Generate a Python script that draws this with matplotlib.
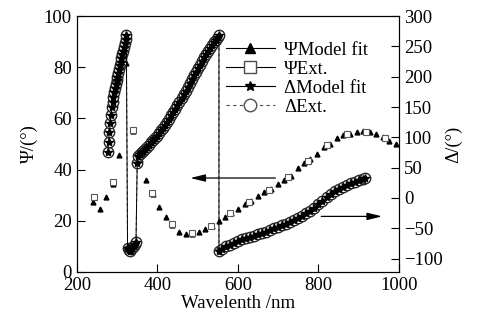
import matplotlib
matplotlib.use('Agg')
import matplotlib.pyplot as plt
from matplotlib.lines import Line2D

plt.rcParams['font.family'] = ['Liberation Serif', 'DejaVu Serif']

# Psi model fit (triangles)
psi_fit_wl = [240, 257, 273, 290, 306, 323, 339, 356, 372, 388, 405, 421, 437, 454, 470, 486,
              503, 519, 535, 552, 568, 584, 601, 617, 633, 650, 666, 682, 699, 715, 731, 748,
              764, 780, 797, 813, 829, 846, 862, 878, 895, 911, 927, 944, 960, 976, 993]
psi_fit = [27.3, 24.6, 29.3, 34.5, 45.7, 81.6, 55.0, 44.0, 36.0, 30.5, 25.4, 21.5, 18.5, 15.6, 14.8, 15.0,
           15.6, 16.8, 18.0, 19.9, 21.5, 23.0, 24.6, 26.6, 27.6, 29.7, 31.2, 32.3, 34.4, 36.0, 37.5, 40.6,
           42.6, 44.0, 46.0, 48.8, 49.9, 52.3, 53.5, 54.0, 54.7, 55.0, 54.7, 53.9, 52.8, 51.2, 50.0]

# Psi ext. (squares)
psi_ext_wl = [242, 290, 340, 387, 437, 485, 532, 580, 627, 677, 725, 775, 822, 870, 917, 965]
psi_ext = [29.3, 35.0, 55.5, 30.8, 18.8, 15.2, 18.0, 23.0, 27.3, 32.0, 37.0, 43.4, 49.6, 53.9, 54.7, 52.3]

# Delta ext. / model fit (circles, stars)
delta_wl = [277, 279, 281, 283, 285, 287, 289, 291, 293, 295, 297, 299, 301, 303, 305, 307, 309, 311,
            313, 315, 317, 319, 321, 323,
            326, 329, 332, 335, 338, 341, 344, 347, 350,
            353, 357, 361, 365, 370, 375, 380, 385, 390, 395, 400, 405, 410, 415, 420, 425, 430,
            435, 440, 445, 450, 455, 460, 465, 470, 475, 480, 485, 490, 495, 500, 505, 510, 515,
            520, 525, 530, 535, 540, 545, 550, 553,
            553, 560, 570, 580, 590, 600, 610, 620, 630, 640, 650, 660, 670, 680, 690, 700, 710,
            720, 730, 740, 750, 760, 770, 780, 790, 800, 810, 820, 830, 840, 850, 860, 870, 880,
            890, 900, 910, 915]
delta_ext = [76, 92, 108, 123, 137, 150, 158, 166, 174, 181, 188, 194, 200, 206, 213, 219, 225, 231,
             237, 243, 249, 255, 262, 268,
             -82, -86, -87, -85, -82, -79, -76, -73, 58,
             70, 73, 76, 78, 81, 84, 88, 92, 96, 99, 103, 107, 112, 116, 121, 126, 131,
             136, 142, 147, 153, 159, 165, 171, 177, 183, 189, 196, 202, 208, 214, 220, 226, 232,
             237, 243, 248, 252, 257, 261, 266, 268,
             -87, -84, -80, -77, -74, -71, -68, -66, -64, -62, -60, -58, -56, -53, -50, -48, -45,
             -43, -40, -37, -33, -29, -25, -21, -16, -10, -5, 1, 6, 11, 15, 18, 21, 24,
             27, 29, 31, 33]
delta_fit = delta_ext

fig = plt.figure(figsize=(4.86, 3.28), dpi=100)
ax = fig.add_axes([0.158, 0.171, 0.663, 0.780])
ax2 = ax.twinx()

ax2.plot(delta_wl, delta_ext, color='0.25', lw=0.7, ls=(0, (3, 3)), marker='o', ms=7.5,
         mfc='white', mec='0.15', mew=1.0, zorder=2)
ax2.plot(delta_wl, delta_fit, color='k', lw=0.7, marker='*', ms=6, mfc='k', mec='k', zorder=3)

ax.plot(psi_fit_wl, psi_fit, ls='none', marker='^', ms=3.5, color='k')
ax.plot(psi_ext_wl, psi_ext, ls='none', marker='s', ms=5, mfc='white', mec='0.35', mew=0.8)

ax.set_xlim(200, 1000)
ax.set_ylim(0, 100)
ax2.set_ylim(-122, 300)
ax.set_xticks([200, 400, 600, 800, 1000])
ax.set_yticks([0, 20, 40, 60, 80, 100])
ax2.set_yticks([-100, -50, 0, 50, 100, 150, 200, 250, 300])
ax.tick_params(direction='in', length=6, labelsize=13.5, top=False)
ax2.tick_params(direction='in', length=6, labelsize=13.5)
ax.set_xlabel('Wavelenth /nm', fontsize=13.5, labelpad=1)
ax.set_ylabel('Ψ/(°)', fontsize=13.5, labelpad=4)
ax2.set_ylabel('Δ/(°)', fontsize=13.5, labelpad=2)

arrow = dict(arrowstyle='-|>,head_length=0.9,head_width=0.22', color='k', lw=0.9)
ax.annotate('', xy=(475, 36.7), xytext=(700, 36.7), arrowprops=arrow)
ax.annotate('', xy=(965, 21.7), xytext=(800, 21.7), arrowprops=arrow)

handles = [
    Line2D([], [], color='k', lw=0.8, marker='^', ms=7, mfc='k'),
    Line2D([], [], color='k', lw=0.8, marker='s', ms=8, mfc='white', mec='0.3'),
    Line2D([], [], color='k', lw=0.8, marker='*', ms=7, mfc='k'),
    Line2D([], [], color='0.3', lw=0.8, ls=(0, (3, 3)), marker='o', ms=9, mfc='white', mec='0.3'),
]
labels = ['ΨModel fit', 'ΨExt.', 'ΔModel fit', 'ΔExt.']
ax2.legend(handles, labels, loc='upper left', bbox_to_anchor=(0.44, 0.93), frameon=False,
           fontsize=13.5, handlelength=2.6, handletextpad=0.5, labelspacing=0.1, borderaxespad=0)

fig.savefig('out.png', dpi=100)
